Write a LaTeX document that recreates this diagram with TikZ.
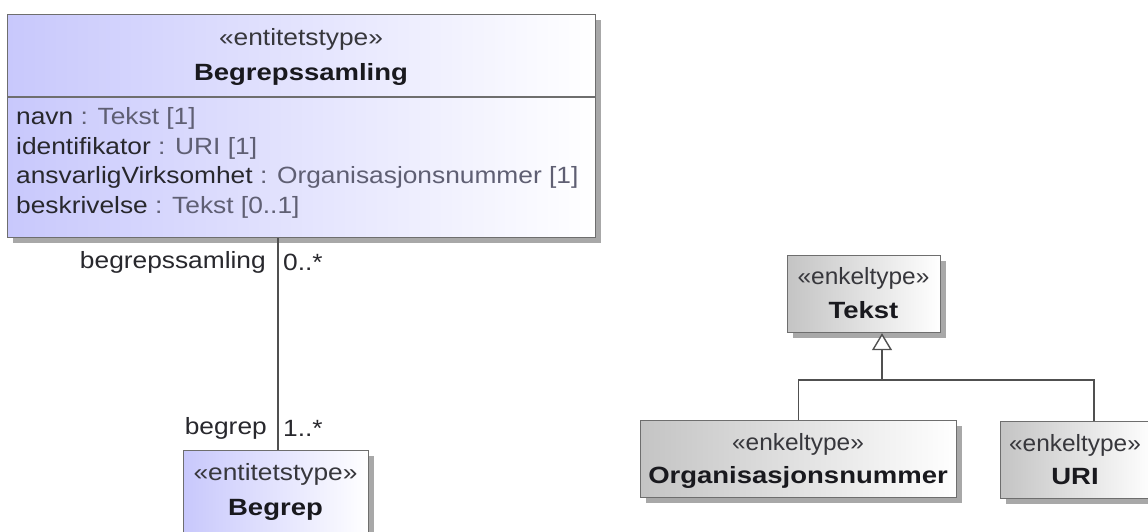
\documentclass[tikz,border=0pt]{standalone}
\usepackage{fontspec}
\setmainfont{Liberation Sans}[FakeStretch=1.12]
\newfontfamily\boldf{Liberation Sans}[FakeStretch=1.17]
\newfontfamily\narrowf{Liberation Sans}[FakeStretch=1.04]
\usetikzlibrary{shadows,arrows.meta,calc}
\definecolor{lav}{RGB}{200,200,252}
\definecolor{grayL}{RGB}{196,196,196}
\definecolor{bordc}{RGB}{110,110,110}
\definecolor{shadc}{RGB}{168,168,168}
\definecolor{linec}{RGB}{80,80,80}
\definecolor{stc}{RGB}{55,55,60}
\definecolor{namec}{RGB}{25,25,30}
\definecolor{attrc}{RGB}{40,40,45}
\definecolor{typec}{RGB}{95,95,115}
\tikzset{
  cls/.style={draw=bordc, line width=1.2pt, inner sep=0pt, anchor=north west,
    drop shadow={shadow xshift=5pt, shadow yshift=-5pt, fill=shadc, opacity=1}},
  ent/.style={cls, left color=lav, right color=white},
  enk/.style={cls, left color=grayL, right color=white},
  txt/.style={inner sep=0pt, font=\fontsize{23.5}{28}\selectfont},
  stereo/.style={txt, text=stc},
  nstereo/.style={txt, text=stc, font=\fontsize{23.5}{28}\selectfont\narrowf},
  cname/.style={txt, text=namec, font=\fontsize{23.5}{28}\selectfont\boldf\bfseries},
  attr/.style={txt, anchor=west, text=attrc},
  endlab/.style={txt, text=attrc},
  conn/.style={draw=linec, line width=1.4pt},
}
\begin{document}
\begin{tikzpicture}[x=1pt,y=-1pt]
\useasboundingbox (0,0) rectangle (1148,531);
\clip (0,0) rectangle (1148,531);
\fill[white] (0,0) rectangle (1148,531);
% Begrepssamling
\node[ent, minimum width=588pt, minimum height=223pt] (bs) at (7,14) {};
\draw[draw=bordc, line width=1.2pt] (7,97) coordinate (dl) -- (595,97) coordinate (dr);
\node[stereo] (bsst) at (301,39) {«entitetstype»};
\node[cname] (bsnm) at (301,74) {Begrepssamling};
\node[attr] (a1) at (16,118.5) {navn \textcolor{typec}{: Tekst [1]}};
\node[attr] (a2) at (16,148) {identifikator \textcolor{typec}{: URI [1]}};
\node[attr] (a3) at (16,177.5) {ansvarligVirksomhet \textcolor{typec}{: Organisasjonsnummer [1]}};
\node[attr] (a4) at (16,207) {beskrivelse \textcolor{typec}{: Tekst [0..1]}};
% Begrep
\node[ent, minimum width=185pt, minimum height=100pt] (bg) at (183,450) {};
\node[stereo] (bgst) at (275.5,474.5) {«entitetstype»};
\node[cname] (bgnm) at (275.5,510) {Begrep};
% Tekst
\node[enk, minimum width=153pt, minimum height=77pt] (tk) at (787,255) {};
\node[nstereo] (tkst) at (863.5,278) {«enkeltype»};
\node[cname] (tknm) at (863.5,310) {Tekst};
% Organisasjonsnummer
\node[enk, minimum width=316pt, minimum height=77pt] (org) at (640,420) {};
\node[nstereo] (orgst) at (798,444) {«enkeltype»};
\node[cname] (orgnm) at (798,477) {Organisasjonsnummer};
% URI
\node[enk, minimum width=153pt, minimum height=77pt] (uri) at (1000,421) {};
\node[nstereo] (urist) at (1075,445) {«enkeltype»};
\node[cname] (urinm) at (1075,477) {URI};
% association
\coordinate (ax) at (278,0);
\draw[conn] (bs.south -| ax) -- (bg.north -| ax);
\node[endlab, anchor=east] (l1) at (266,262) {begrepssamling};
\node[endlab, anchor=west] (m1) at (283,262) {0..*};
\node[endlab, anchor=east] (l2) at (267,428) {begrep};
\node[endlab, anchor=west] (m2) at (283,428) {1..*};
% generalization
\coordinate (gj) at (882,380);
\coordinate (ux) at (1094,0);
\draw[conn] (org.north) |- (gj);
\draw[conn] (uri.north -| ux) |- (gj);
\draw[conn, -{Triangle[open, width=20pt, length=17pt, line width=1.4pt, fill=white]}] (gj) -- (tk.south -| gj);
\end{tikzpicture}
\end{document}
